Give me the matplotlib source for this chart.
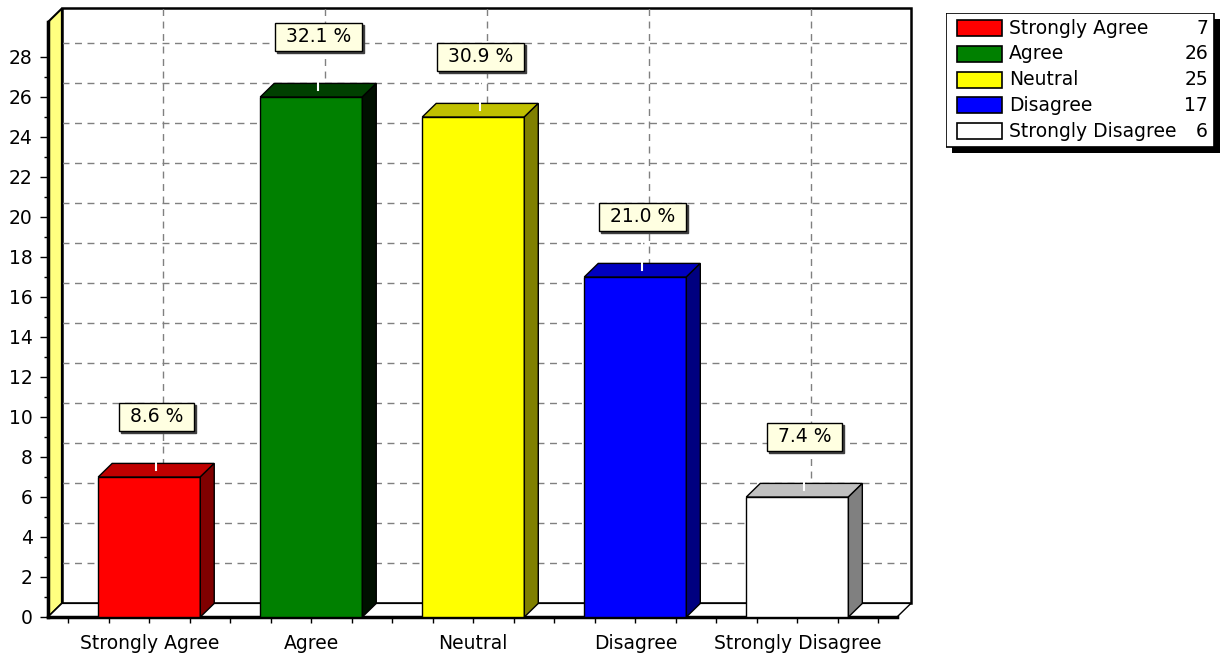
import matplotlib
matplotlib.use("Agg")
import matplotlib.pyplot as plt
from matplotlib.patches import Polygon, Rectangle
import matplotlib.transforms as mtransforms
import numpy as np

# survey answers
categories = ["Strongly Agree", "Agree", "Neutral", "Disagree", "Strongly Disagree"]
counts = [7, 26, 25, 17, 6]
front_colors = ["#ff0000", "#008000", "#ffff00", "#0000ff", "#ffffff"]
top_colors = ["#c00000", "#004000", "#c0c000", "#0000c0", "#c0c0c0"]
side_colors = ["#800000", "#001000", "#808000", "#000080", "#808080"]

plt.rcParams['font.family'] = 'DejaVu Sans'
FS = 13.5

W, H = 1228, 660
def px(x0, y0, x1, y1):
    # pixel box -> figure fraction
    return [x0 / W, 1 - y1 / H, (x1 - x0) / W, (y1 - y0) / H]

fig = plt.figure(figsize=(W / 100, H / 100), dpi=100)
ax = fig.add_axes(px(48, 22, 897, 617))
xmin, xmax = -0.625, 4.615
ymax = 29.75
ax.set_xlim(xmin, xmax)
ax.set_ylim(0, ymax)
ax.patch.set_visible(False)

# fake 3d depth in data units
dx, dy = 0.086, 0.68
bw = 0.315

# back wall
ax.add_patch(Rectangle((xmin + dx, dy), xmax - xmin, ymax, facecolor="white",
                       edgecolor="black", lw=1.8, clip_on=False, zorder=0))
# left wall
ax.add_patch(Polygon([(xmin, 0), (xmin, ymax), (xmin + dx, ymax + dy), (xmin + dx, dy)],
                     closed=True, facecolor="#ffff80", edgecolor="black", lw=1.5,
                     clip_on=False, zorder=1))
# floor
ax.add_patch(Polygon([(xmin, 0), (xmin + dx, dy), (xmax + dx, dy), (xmax, 0)],
                     closed=True, facecolor="white", edgecolor="black", lw=1.0,
                     clip_on=False, zorder=1))

# grid on back wall
for v in range(2, 30, 2):
    ax.plot([xmin + dx, xmax + dx], [v + dy, v + dy], color="#808080", lw=1.0,
            ls=(0, (5, 4)), clip_on=False, zorder=0.5)
for i in range(len(categories)):
    ax.plot([i + dx, i + dx], [dy, ymax + dy], color="#808080", lw=1.0,
            ls=(0, (5, 4)), clip_on=False, zorder=0.5)

total = sum(counts)
shadow_tr = mtransforms.offset_copy(ax.transData, fig=fig, x=1.5, y=-1.5, units='points')
for i, (v, fc, tc, sc) in enumerate(zip(counts, front_colors, top_colors, side_colors)):
    x0, x1 = i - bw, i + bw
    ax.add_patch(Rectangle((x0, 0), x1 - x0, v, facecolor=fc, edgecolor="black",
                           lw=1.0, zorder=3, clip_on=False))
    ax.add_patch(Polygon([(x0, v), (x0 + dx, v + dy), (x1 + dx, v + dy), (x1, v)],
                         closed=True, facecolor=tc, edgecolor="black", lw=1.0,
                         zorder=3, clip_on=False))
    ax.add_patch(Polygon([(x1, 0), (x1, v), (x1 + dx, v + dy), (x1 + dx, dy)],
                         closed=True, facecolor=sc, edgecolor="black", lw=1.0,
                         zorder=3, clip_on=False))
    # percent label with white connector
    cx, cy = i + dx / 2, v + dy / 2
    ly = v + 3.0
    ax.plot([cx, cx], [cy, ly], color="white", lw=1.5, zorder=4, clip_on=False)
    label = " {:.1f} % ".format(100.0 * v / total)
    ax.text(cx, ly, label, transform=shadow_tr, ha="center", va="center", fontsize=FS,
            color="#404040", zorder=4.5,
            bbox=dict(boxstyle="square,pad=0.25", facecolor="#404040", edgecolor="#404040", lw=1))
    ax.text(cx, ly, label, ha="center", va="center", fontsize=FS, zorder=5,
            bbox=dict(boxstyle="square,pad=0.25", facecolor="#ffffe1", edgecolor="black", lw=1))

# axes / ticks
for s in ["top", "right"]:
    ax.spines[s].set_visible(False)
ax.spines["left"].set_linewidth(2.5)
ax.spines["bottom"].set_linewidth(2.5)
ax.spines["left"].set_zorder(2)
ax.spines["bottom"].set_zorder(2)
ax.set_yticks(np.arange(0, 29, 2))
ax.set_yticks(np.arange(0, 29, 1), minor=True)
ax.set_xticks(range(len(categories)))
ax.set_xticklabels(categories)
ax.set_xticks(np.arange(-0.5, 4.6, 0.25), minor=True)
ax.tick_params(axis="y", which="major", length=6, width=1, pad=5, labelsize=FS)
ax.tick_params(axis="y", which="minor", length=3, width=1)
ax.tick_params(axis="x", which="both", length=4, width=1, pad=8, labelsize=FS)

# legend with counts
lax = fig.add_axes(px(946, 13, 1220, 153))
lax.set_xlim(0, 274)
lax.set_ylim(140, 0)
lax.axis("off")
lax.add_patch(Rectangle((6, 6), 268, 134, facecolor="black", edgecolor="none"))
lax.add_patch(Rectangle((0, 0), 268, 134, facecolor="white", edgecolor="black", lw=1.2))
for k, (name, n, fc) in enumerate(zip(categories, counts, front_colors)):
    yc = 15 + 25.8 * k
    lax.add_patch(Rectangle((11, yc - 8), 45, 16, facecolor=fc, edgecolor="black", lw=1.2))
    lax.text(63, yc, name, va="center", ha="left", fontsize=FS)
    lax.text(262, yc, str(n), va="center", ha="right", fontsize=FS)

fig.savefig("out.png", dpi=100)
